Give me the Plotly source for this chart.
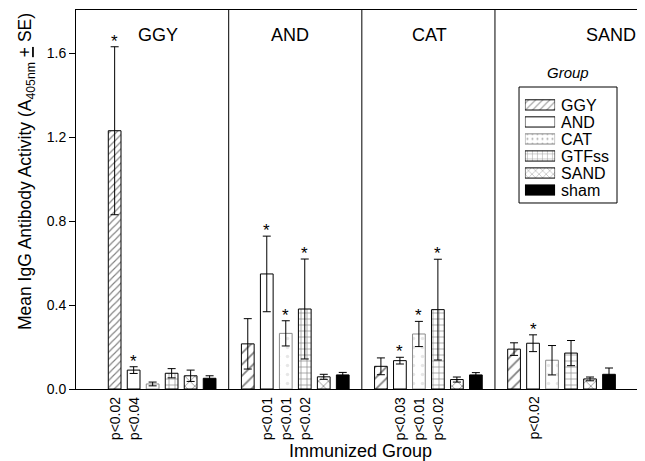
import plotly.graph_objects as go

# ---------------- data ----------------
groups = ["GGY", "AND", "CAT", "SAND"]           # immunized groups (panels)
series = ["GGY", "AND", "CAT", "GTFss", "SAND", "sham"]

ggy_vals = [1.23, 0.215, 0.108, 0.19]
ggy_se = [0.40, 0.12, 0.04, 0.03]
and_vals = [0.09, 0.548, 0.135, 0.218]
and_se = [0.016, 0.18, 0.016, 0.04]
cat_vals = [0.024, 0.265, 0.262, 0.137]
cat_se = [0.009, 0.06, 0.06, 0.07]
gtf_vals = [0.075, 0.381, 0.378, 0.171]
gtf_se = [0.022, 0.238, 0.24, 0.06]
sand_vals = [0.063, 0.058, 0.045, 0.048]
sand_se = [0.027, 0.012, 0.012, 0.009]
sham_vals = [0.051, 0.067, 0.067, 0.07]
sham_se = [0.012, 0.012, 0.011, 0.03]

# significance: (panel index, series index, label)
sig_group = [0, 0, 1, 1, 1, 2, 2, 2, 3]
sig_series = [0, 1, 1, 2, 3, 1, 2, 3, 1]
sig_text = ["p<0.02", "p<0.04", "p<0.01", "p<0.01", "p<0.02",
            "p<0.03", "p<0.01", "p<0.02", "p<0.02"]

y_ticks = [0.0, 0.4, 0.8, 1.2, 1.6]

# ---------------- styles ----------------
FONT = "Arial, Liberation Sans, Helvetica, sans-serif"
vals = [ggy_vals, and_vals, cat_vals, gtf_vals, sand_vals, sham_vals]
ses = [ggy_se, and_se, cat_se, gtf_se, sand_se, sham_se]
styles = [
    dict(color="white", line="black", shape="/", fg="black", size=[5, 8, 8, 8], sol=0.22),
    dict(color="white", line="black", shape="", fg="black", size=6, sol=0.2),
    dict(color="white", line="#8a8a8a", shape=".", fg="#d0d0d0", size=9, sol=0.12),
    dict(color="white", line="black", shape="+", fg="black", size=6, sol=0.2),
    dict(color="white", line="black", shape="x", fg="black", size=7, sol=0.2),
    dict(color="black", line="black", shape="", fg="black", size=6, sol=0.2),
]

BARGAP = 0.144
GROUPGAP = 0.33
slot = (1 - BARGAP) / len(series)

fig = go.Figure()
for i, name in enumerate(series):
    st = styles[i]
    fig.add_trace(go.Bar(
        x=list(range(len(groups))), y=vals[i], name=name,
        marker=dict(color=st["color"], line=dict(color=st["line"], width=1),
                    pattern=dict(shape=st["shape"], fgcolor=st["fg"], bgcolor=st["color"],
                                 size=st["size"], solidity=st["sol"])),
        error_y=dict(type="data", array=ses[i], visible=True, color="black",
                     thickness=1, width=4),
        showlegend=False, hoverinfo="skip",
    ))

# legend drawn as an inset bar axis
fig.add_trace(go.Bar(
    y=series, x=[1] * len(series), orientation="h", width=0.6,
    marker=dict(color=[s["color"] for s in styles],
                line=dict(color=[s["line"] for s in styles], width=1),
                pattern=dict(shape=[s["shape"] for s in styles],
                             fgcolor=[s["fg"] for s in styles],
                             bgcolor=[s["color"] for s in styles],
                             size=5, solidity=[s["sol"] for s in styles])),
    xaxis="x2", yaxis="y2", showlegend=False, hoverinfo="skip",
))

annotations = []
# panel labels
panel_label_x = [-0.03, 0.96, 2.01, 3.37]
for g, lab in enumerate(groups):
    annotations.append(dict(x=panel_label_x[g], y=0.934, xref="x", yref="paper",
                            xanchor="center", yanchor="middle",
                            text=lab, showarrow=False, font=dict(size=18, family=FONT, color="black")))
# stars and p-values
for g, s, t in zip(sig_group, sig_series, sig_text):
    xc = g + (s - (len(series) - 1) / 2) * slot
    top = vals[s][g] + ses[s][g]
    annotations.append(dict(x=xc, y=top, xref="x", yref="y", text="*", showarrow=False,
                            xanchor="center", yanchor="bottom", yshift=-6,
                            font=dict(size=17, family=FONT, color="black")))
    annotations.append(dict(x=xc, y=0, xref="x", yref="paper", text=t, showarrow=False,
                            textangle=-90, yanchor="top", xanchor="center", yshift=-6,
                            font=dict(size=14, family=FONT, color="black")))
# y-axis title
annotations.append(dict(x=-0.086, y=0.5726, xref="paper", yref="paper", textangle=-90,
                        xanchor="center", yanchor="middle",
                        text="Mean IgG Antibody Activity (A<sub>405nm</sub> <u>+</u> SE)",
                        showarrow=False, font=dict(size=17.5, family=FONT, color="black")))
# legend title
annotations.append(dict(x=0.8647, y=0.836, xref="paper", yref="paper", text="<i>Group</i>",
                        xanchor="center", yanchor="middle",
                        showarrow=False, font=dict(size=15, family=FONT, color="black")))

shapes = []
for d in [0.5, 1.5, 2.5]:
    shapes.append(dict(type="line", xref="x", yref="paper", x0=d, x1=d, y0=0, y1=1,
                       line=dict(color="black", width=1)))
shapes.append(dict(type="rect", xref="paper", yref="paper", x0=0.7786, x1=0.9508,
                   y0=0.4908, y1=0.7968, line=dict(color="black", width=1),
                   fillcolor="white", layer="below"))

fig.update_layout(
    width=637, height=453,
    margin=dict(l=68, r=0, t=2, b=72),
    plot_bgcolor="white", paper_bgcolor="white",
    barmode="group", bargap=BARGAP, bargroupgap=GROUPGAP,
    font=dict(family=FONT, color="black"),
    annotations=annotations, shapes=shapes,
    xaxis=dict(range=[-0.647, 3.627], showgrid=False, zeroline=False, showline=True,
               linecolor="black", linewidth=1, mirror=True, showticklabels=False,
               ticks="", title=dict(text="Immunized Group", font=dict(size=18, family=FONT),
                                    standoff=56)),
    yaxis=dict(range=[0, 1.805], tickvals=y_ticks, tickformat=".1f", showgrid=False,
               zeroline=False, showline=True, linecolor="black", linewidth=1,
               ticks="outside", ticklen=6, tickcolor="black",
               tickfont=dict(size=14, family=FONT)),
    xaxis2=dict(domain=[0.789, 0.842], range=[0, 1], visible=False, anchor="y2"),
    yaxis2=dict(domain=[0.5026, 0.772], anchor="x2", side="right", autorange="reversed",
                showgrid=False, zeroline=False, showline=False, ticks="",
                tickmode="array", tickvals=series, ticktext=series,
                ticklabelstandoff=5,
                tickfont=dict(size=16, family=FONT), type="category"),
)

fig.write_html("out.html")
